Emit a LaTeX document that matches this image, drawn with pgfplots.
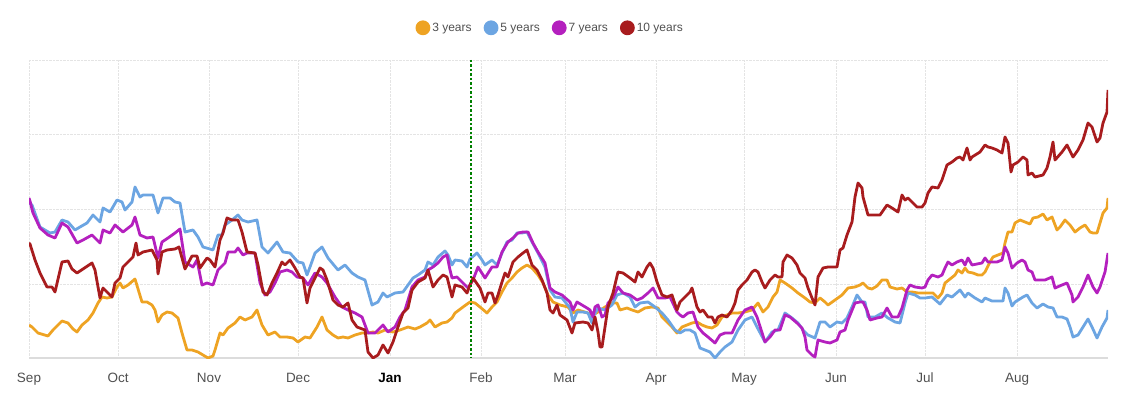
\documentclass[border=0pt]{standalone}
\usepackage{fontspec}
\setmainfont{Liberation Sans}
\usepackage{pgfplots}
\pgfplotsset{compat=1.18}
\definecolor{cthree}{RGB}{238,163,35}
\definecolor{cfive}{RGB}{108,165,226}
\definecolor{cseven}{RGB}{180,32,190}
\definecolor{cten}{RGB}{168,28,30}
\definecolor{gridc}{RGB}{228,228,228}
\definecolor{basec}{RGB}{220,220,220}
\definecolor{tickc}{RGB}{80,80,80}
\begin{document}
\begin{tikzpicture}[x=1pt,y=1pt]
\useasboundingbox (0,0) rectangle (1126,395);
\begin{axis}[
  at={(29pt,37pt)}, anchor=south west,
  scale only axis, width=1079pt, height=298pt,
  xmin=29, xmax=1108, ymin=60, ymax=358, y dir=reverse,
  xtick={29,118,209,298,390,481,565,656,744,836,925,1017},
  xticklabels={Sep,Oct,Nov,Dec,\textbf{\color{black}Jan},Feb,Mar,Apr,May,Jun,Jul,Aug},
  typeset ticklabels with strut,
  xticklabel style={font=\fontsize{13.5}{15}\selectfont, text=tickc, yshift=-10pt},
  ytick={60,134,209,284}, yticklabels={},
  extra y ticks={358}, extra y tick labels={},
  extra y tick style={grid=major, major grid style={solid, color=basec, line width=1.2pt}},
  grid=major,
  major grid style={densely dotted, color=gridc, line width=0.8pt},
  axis line style={draw=none},
  major tick length=0pt,
  legend columns=4,
  legend style={draw=none, fill=none, at={(0.483,1.108)}, anchor=center,
    font=\fontsize{12}{14}\selectfont, text=tickc,
    /tikz/every even column/.append style={column sep=10pt}},
  legend image code/.code={\fill[#1] (12pt,0pt) circle (6pt);},
  every axis plot/.append style={line width=2.8pt, line join=round, mark=none},
]
\addplot[color=cthree] coordinates {(29,325)(32,327)(38,333)(48,336)(53,330)(62,321)(68,323)(73,329)(77,332)(82,325)(88,320)(93,313)(98,303)(102,297)(107,298)(112,297)(117,287)(120,283)(123,288)(128,285)(135,279)(142,302)(147,302)(152,305)(155,310)(158,322)(162,315)(167,312)(172,313)(178,318)(182,333)(187,350)(192,350)(198,352)(203,355)(208,358)(213,356)(215,350)(220,333)(223,335)(228,328)(235,323)(240,317)(245,320)(252,317)(257,310)(262,325)(268,335)(275,332)(280,337)(287,337)(293,338)(298,342)(305,337)(310,338)(317,327)(322,317)(327,330)(333,335)(338,338)(343,337)(348,338)(355,335)(362,333)(368,333)(373,332)(378,333)(385,330)(393,332)(400,330)(408,327)(415,329)(420,327)(427,323)(430,320)(435,327)(442,323)(447,322)(452,318)(455,313)(463,307)(470,302)(475,303)(480,307)(487,313)(492,307)(497,302)(502,292)(507,283)(512,278)(517,272)(522,268)(527,265)(532,268)(538,275)(543,283)(548,295)(553,302)(560,305)(568,307)(573,313)(578,310)(588,313)(593,315)(598,312)(605,307)(612,303)(617,303)(620,310)(627,308)(632,310)(638,312)(645,308)(652,307)(658,308)(662,317)(667,322)(672,327)(677,333)(682,327)(687,325)(692,323)(697,322)(702,325)(707,327)(712,328)(717,325)(722,317)(727,315)(732,313)(738,313)(745,312)(752,310)(758,303)(763,312)(768,307)(773,297)(777,292)(780,280)(785,283)(792,288)(798,293)(805,298)(810,302)(815,303)(820,298)(825,302)(828,305)(835,300)(842,295)(848,288)(855,287)(860,285)(863,283)(868,288)(872,289)(877,286)(882,280)(887,280)(890,287)(897,289)(902,288)(907,292)(912,292)(918,293)(925,293)(933,293)(938,298)(942,293)(945,283)(950,279)(955,275)(958,270)(962,273)(965,268)(968,272)(973,273)(978,275)(982,275)(985,272)(990,262)(993,257)(998,255)(1003,253)(1005,243)(1008,232)(1012,232)(1015,223)(1020,220)(1025,222)(1030,224)(1033,218)(1038,217)(1043,214)(1047,220)(1052,217)(1057,230)(1060,227)(1065,220)(1070,225)(1075,232)(1080,228)(1085,225)(1090,232)(1093,233)(1097,233)(1100,223)(1103,213)(1107,208)(1108,198)};
\addlegendentry{3 years}
\addplot[color=cfive] coordinates {(29,203)(32,205)(40,227)(50,233)(55,232)(62,220)(68,222)(75,230)(80,227)(87,223)(93,215)(100,222)(103,208)(110,212)(117,200)(122,202)(125,210)(132,202)(135,187)(140,197)(143,195)(153,195)(158,213)(163,198)(170,198)(175,202)(180,203)(185,232)(193,230)(198,237)(203,247)(210,249)(213,250)(218,235)(222,235)(225,225)(232,220)(238,215)(242,220)(248,222)(257,220)(262,247)(268,253)(277,242)(283,252)(290,253)(298,262)(303,263)(307,275)(310,267)(315,253)(322,247)(328,258)(338,270)(345,265)(352,273)(358,277)(365,280)(372,305)(378,302)(383,293)(387,297)(395,293)(403,292)(408,285)(413,278)(418,275)(425,270)(428,262)(433,265)(438,257)(445,251)(448,255)(452,265)(455,260)(462,261)(467,267)(470,259)(477,253)(482,260)(485,265)(492,260)(497,265)(502,253)(507,242)(512,240)(517,233)(522,233)(527,232)(532,242)(538,253)(545,267)(550,290)(555,297)(562,298)(570,308)(573,322)(577,312)(583,312)(588,313)(592,323)(593,317)(598,308)(605,310)(612,305)(617,295)(623,293)(630,297)(635,307)(640,303)(648,302)(655,307)(662,313)(668,320)(675,330)(680,333)(685,330)(690,330)(695,333)(700,348)(705,350)(710,352)(715,358)(720,352)(725,347)(732,342)(738,330)(745,320)(752,317)(757,327)(765,342)(772,332)(778,330)(785,313)(792,318)(798,323)(803,330)(808,335)(815,338)(820,322)(825,322)(830,327)(837,322)(842,323)(847,318)(852,307)(857,295)(862,302)(865,302)(868,317)(875,317)(882,313)(888,318)(895,322)(900,323)(905,303)(908,293)(915,295)(920,298)(925,298)(932,297)(940,304)(947,295)(952,297)(960,290)(965,297)(968,293)(975,298)(982,302)(985,298)(992,301)(1003,301)(1005,288)(1008,293)(1012,306)(1015,302)(1023,297)(1027,295)(1032,303)(1037,308)(1043,304)(1048,307)(1053,308)(1057,317)(1062,317)(1067,319)(1070,327)(1073,337)(1078,335)(1083,327)(1088,319)(1092,327)(1097,338)(1102,327)(1107,318)(1108,310)};
\addlegendentry{5 years}
\addplot[color=cseven] coordinates {(29,198)(30,201)(33,213)(40,228)(48,235)(55,238)(62,223)(68,227)(77,243)(83,240)(92,235)(100,243)(103,230)(110,233)(115,225)(123,232)(132,225)(135,217)(140,235)(147,238)(153,237)(158,258)(162,242)(168,238)(175,233)(180,229)(185,262)(193,267)(197,260)(202,285)(207,283)(213,285)(218,270)(225,263)(228,252)(235,252)(238,248)(243,255)(247,253)(255,253)(260,283)(265,295)(270,292)(275,283)(280,272)(287,270)(292,272)(297,277)(303,278)(308,285)(315,273)(322,277)(327,283)(335,297)(342,307)(348,310)(355,313)(362,317)(368,333)(375,333)(383,325)(388,332)(395,327)(400,317)(405,310)(412,287)(418,280)(425,277)(428,270)(433,267)(438,263)(443,257)(447,255)(450,270)(452,278)(457,277)(463,283)(468,288)(473,280)(478,267)(485,278)(492,267)(497,267)(502,252)(508,242)(513,238)(518,233)(523,232)(528,232)(533,243)(538,252)(545,263)(550,288)(555,292)(562,295)(570,302)(573,310)(577,302)(582,305)(587,308)(590,310)(593,317)(595,307)(598,305)(602,317)(605,315)(608,303)(613,298)(618,287)(623,293)(630,295)(637,300)(642,298)(648,293)(653,288)(658,298)(665,298)(670,297)(677,312)(680,315)(683,317)(688,313)(693,312)(698,327)(703,333)(708,337)(715,343)(720,335)(725,333)(732,333)(738,320)(745,310)(752,307)(757,317)(765,342)(770,337)(775,330)(780,330)(785,315)(790,317)(797,323)(802,328)(805,337)(807,350)(812,355)(815,357)(818,340)(825,342)(830,343)(837,340)(840,332)(845,330)(848,320)(855,303)(860,302)(863,302)(867,310)(870,320)(877,318)(882,317)(887,308)(892,317)(898,317)(902,308)(907,290)(910,285)(915,287)(922,288)(925,287)(928,280)(932,275)(938,277)(942,275)(945,268)(948,262)(952,265)(957,262)(962,260)(965,265)(968,258)(972,265)(982,263)(985,258)(988,262)(997,262)(1002,260)(1005,247)(1008,253)(1012,268)(1017,263)(1022,260)(1025,262)(1028,270)(1032,272)(1035,280)(1040,280)(1045,280)(1052,277)(1055,288)(1062,285)(1067,283)(1072,295)(1073,302)(1078,297)(1083,287)(1088,275)(1093,287)(1097,293)(1100,287)(1105,272)(1108,253)};
\addlegendentry{7 years}
\addplot[color=cten] coordinates {(29,243)(30,244)(35,260)(40,273)(47,287)(52,287)(55,292)(62,262)(68,261)(72,269)(77,273)(83,269)(92,263)(95,270)(100,298)(103,288)(108,293)(112,297)(115,283)(120,278)(123,267)(130,260)(133,257)(136,243)(138,255)(143,252)(152,250)(157,260)(158,274)(162,252)(167,250)(175,249)(179,247)(185,269)(192,256)(197,256)(200,268)(207,258)(210,260)(215,267)(220,240)(223,233)(227,218)(232,220)(238,220)(242,232)(247,252)(255,253)(258,265)(263,292)(267,295)(272,283)(277,273)(282,262)(285,265)(290,260)(295,268)(300,277)(303,278)(307,303)(310,288)(315,278)(320,268)(323,270)(327,280)(333,300)(338,305)(343,307)(348,303)(352,320)(357,327)(365,330)(368,352)(373,358)(378,355)(383,345)(388,353)(393,342)(398,327)(403,313)(408,308)(412,290)(418,282)(425,278)(428,270)(433,287)(438,280)(443,275)(447,277)(452,297)(455,285)(462,287)(467,293)(470,285)(473,278)(480,288)(485,302)(488,293)(492,293)(495,303)(498,295)(502,282)(505,273)(508,277)(513,262)(518,257)(523,253)(527,250)(532,265)(537,270)(542,280)(547,293)(550,310)(553,313)(557,305)(560,315)(567,320)(572,333)(575,323)(583,322)(588,323)(592,330)(595,317)(598,332)(600,347)(602,347)(605,327)(608,307)(613,293)(618,272)(623,273)(630,278)(635,282)(638,272)(642,277)(647,267)(650,263)(653,268)(657,282)(662,295)(667,297)(672,295)(677,310)(680,302)(685,297)(690,292)(692,288)(697,307)(700,312)(703,310)(708,317)(712,317)(715,323)(718,317)(722,315)(727,317)(732,310)(735,303)(738,290)(742,285)(747,280)(752,272)(755,270)(758,272)(762,282)(765,288)(770,280)(775,275)(778,277)(782,277)(783,262)(787,255)(792,258)(797,265)(800,273)(805,278)(808,288)(812,298)(815,305)(818,277)(823,268)(828,267)(837,267)(840,250)(843,248)(847,235)(852,222)(855,197)(858,183)(862,188)(863,197)(868,215)(875,215)(880,215)(887,205)(892,208)(898,212)(902,195)(905,200)(908,198)(913,203)(917,207)(922,207)(925,203)(928,193)(932,187)(938,188)(942,180)(947,165)(952,162)(957,158)(960,157)(963,160)(967,148)(970,160)(972,157)(980,152)(985,145)(988,147)(992,148)(997,150)(1002,153)(1005,137)(1008,143)(1011,172)(1013,165)(1018,162)(1023,157)(1027,160)(1028,175)(1032,173)(1035,177)(1043,175)(1047,168)(1050,157)(1053,142)(1055,160)(1062,152)(1067,145)(1073,157)(1078,150)(1083,140)(1088,123)(1092,127)(1097,142)(1100,138)(1103,123)(1107,112)(1108,90)};
\addlegendentry{10 years}
\addplot[forget plot, color={rgb,255:red,0;green,128;blue,0}, line width=2pt, dash pattern=on 2.5pt off 2pt] coordinates {(471,60) (471,358)};
\end{axis}
\end{tikzpicture}
\end{document}
